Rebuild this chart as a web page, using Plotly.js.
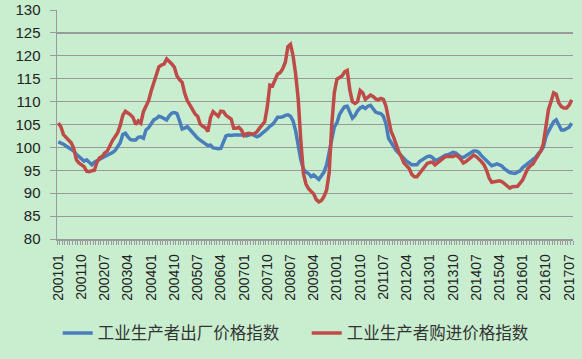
<!DOCTYPE html>
<html><head><meta charset="utf-8">
<script src="https://cdn.plot.ly/plotly-3.0.1.min.js"></script>
<style>html,body{margin:0;padding:0;background:#c8eecf;}#chart{width:582px;height:359px;}</style>
</head><body><div id="chart"></div>
<script>
// Monthly periods 200101 .. 201708
const months = [];
for (let y = 2001; y <= 2017; y++) {
  for (let m = 1; m <= 12; m++) {
    if (y === 2017 && m > 8) break;
    months.push(String(y) + (m < 10 ? '0' + m : String(m)));
  }
}
const tickLabels = ['200101','200110','200207','200304','200401','200410','200507','200604','200701','200710','200807','200904','201001','201010','201107','201204','201301','201310','201407','201504','201601','201610','201707'];

const seriesNames = ['工业生产者出厂价格指数', '工业生产者购进价格指数'];

const ppiOut = [
101.2,101.0,100.7,100.3,100.0,99.6,99.2,98.5,98.0,97.5,97.0,97.3,
96.8,96.2,96.8,97.1,97.3,97.5,97.9,98.2,98.6,98.9,99.3,100.0,
101.0,102.8,103.1,102.3,101.7,101.6,101.6,102.2,102.3,102.0,103.8,104.3,
105.3,106.0,106.3,106.8,106.6,106.3,106.0,106.9,107.5,107.6,107.4,105.8,
104.0,104.2,104.5,103.9,103.3,102.5,102.0,101.6,101.2,100.6,100.4,100.5,
99.9,99.8,99.7,99.8,101.2,102.5,102.7,102.6,102.7,102.7,102.6,102.7,
102.7,102.5,102.8,102.9,102.6,102.3,102.6,103.0,103.5,104.0,104.6,105.0,
105.7,106.6,106.6,106.7,107.0,107.1,106.8,105.8,103.6,100.4,97.3,95.3,
94.6,94.3,93.6,94.0,93.5,93.0,93.8,94.6,96.2,98.8,101.6,104.5,
105.4,107.2,108.1,108.9,109.0,107.8,106.4,107.0,108.0,108.6,108.9,108.5,
109.0,109.2,108.4,107.7,107.5,107.4,106.8,105.2,102.0,101.0,100.2,99.3,
98.7,98.0,97.6,97.0,96.6,96.2,96.2,96.2,96.9,97.3,97.8,98.0,
98.1,97.8,97.2,97.3,97.6,98.0,98.3,98.4,98.6,98.9,98.8,98.3,
97.9,97.8,98.2,98.6,99.0,99.2,99.2,98.9,98.2,97.6,97.1,96.5,
96.0,96.2,96.4,96.2,95.9,95.3,94.9,94.5,94.4,94.3,94.6,94.9,
95.6,96.0,96.6,96.9,97.2,97.8,98.6,99.2,100.1,102.3,103.5,104.6,
105.6,106.0,104.9,103.8,103.8,104.0,104.4,105.3
];

const ppiIn = [
105.3,104.5,102.8,102.1,101.6,101.0,99.8,97.3,96.6,96.2,95.8,94.8,
94.7,94.9,95.0,96.8,97.7,98.0,98.8,99.2,100.4,101.5,102.3,103.2,
104.8,107.0,107.9,107.6,107.1,106.5,105.0,105.8,105.3,107.8,109.1,110.2,
112.3,114.0,116.0,117.6,118.0,118.2,119.3,118.8,118.2,117.5,115.6,114.8,
114.2,111.8,110.2,109.3,108.3,107.3,106.8,105.1,104.6,104.3,103.5,106.5,
107.8,107.3,106.8,107.9,107.8,107.0,106.6,106.2,104.2,104.2,104.4,103.8,
102.6,103.0,103.1,102.9,103.0,103.4,104.2,104.9,105.6,108.8,113.6,113.4,
114.8,116.0,116.3,117.2,118.6,122.0,122.5,120.0,116.0,110.5,101.5,94.3,
92.0,91.0,90.4,89.8,88.6,88.1,88.4,89.3,90.7,94.5,105.0,112.0,
114.9,115.2,115.6,116.5,116.8,112.5,110.0,109.6,110.0,112.4,111.9,110.5,
111.0,111.4,111.1,110.6,110.4,110.7,110.5,109.0,106.2,103.5,102.2,100.3,
99.0,97.9,96.6,96.0,95.4,94.1,93.6,93.6,94.4,95.2,96.0,96.5,
96.7,96.8,96.2,96.7,97.2,97.6,98.0,98.0,98.0,98.0,98.3,98.0,
97.4,96.6,96.9,97.4,97.9,98.3,98.0,97.5,96.9,96.2,95.0,93.3,
92.4,92.5,92.7,92.7,92.5,92.1,91.6,91.1,91.4,91.5,91.5,92.2,
92.9,94.2,95.4,96.0,96.4,97.4,98.4,99.2,100.8,104.0,108.3,110.0,
111.9,111.6,109.7,108.9,108.6,108.6,109.2,110.4
];

const idx = months.map((_, i) => i);
const tickVals = tickLabels.map(t => months.indexOf(t));

const traces = [
  {x: idx, y: ppiOut, name: seriesNames[0], type: 'scatter', mode: 'lines',
   line: {color: '#4a7ebb', width: 3.5}, text: months, hovertemplate: '%{text}: %{y}<extra></extra>'},
  {x: idx, y: ppiIn, name: seriesNames[1], type: 'scatter', mode: 'lines',
   line: {color: '#be4b48', width: 3.5}, text: months, hovertemplate: '%{text}: %{y}<extra></extra>'}
];

const layout = {
  width: 582, height: 359,
  margin: {l: 57, r: 9, t: 10, b: 120},
  paper_bgcolor: '#c8eecf', plot_bgcolor: '#c8eecf',
  font: {family: 'Liberation Sans, Arial, sans-serif', color: '#222'},
  showlegend: true,
  legend: {orientation: 'h', xref: 'container', yref: 'container', x: 0.527, y: 0.072,
           xanchor: 'center', yanchor: 'middle', entrywidth: 204, entrywidthmode: 'pixels',
           font: {family: 'Noto Sans CJK SC, sans-serif', size: 16.5, color: '#333'},
           bgcolor: 'rgba(0,0,0,0)', itemwidth: 30},
  xaxis: {
    range: [-0.5, months.length - 0.5],
    tickmode: 'array', tickvals: tickVals, ticktext: tickLabels,
    tickangle: -90, ticks: '', ticklabelstandoff: 8,
    tickfont: {size: 14, color: '#222'},
    showgrid: false, zeroline: false,
    showline: true, linecolor: '#9a9a9a', linewidth: 1.5,
    minor: {tickmode: 'linear', tick0: -0.5, dtick: 1, ticks: 'outside', ticklen: 4,
            tickcolor: '#9a9a9a', tickwidth: 1, showgrid: false}
  },
  yaxis: {
    range: [80, 130], dtick: 5, tick0: 80,
    ticks: 'outside', ticklen: 6, tickcolor: '#9a9a9a', ticklabelstandoff: 6,
    tickfont: {size: 15, color: '#222'},
    showgrid: true, gridcolor: '#9a9a9a', gridwidth: 1.2,
    zeroline: false, showline: true, linecolor: '#9a9a9a', linewidth: 1.5
  }
};

Plotly.newPlot('chart', traces, layout, {displayModeBar: false, staticPlot: true});
</script></body></html>
